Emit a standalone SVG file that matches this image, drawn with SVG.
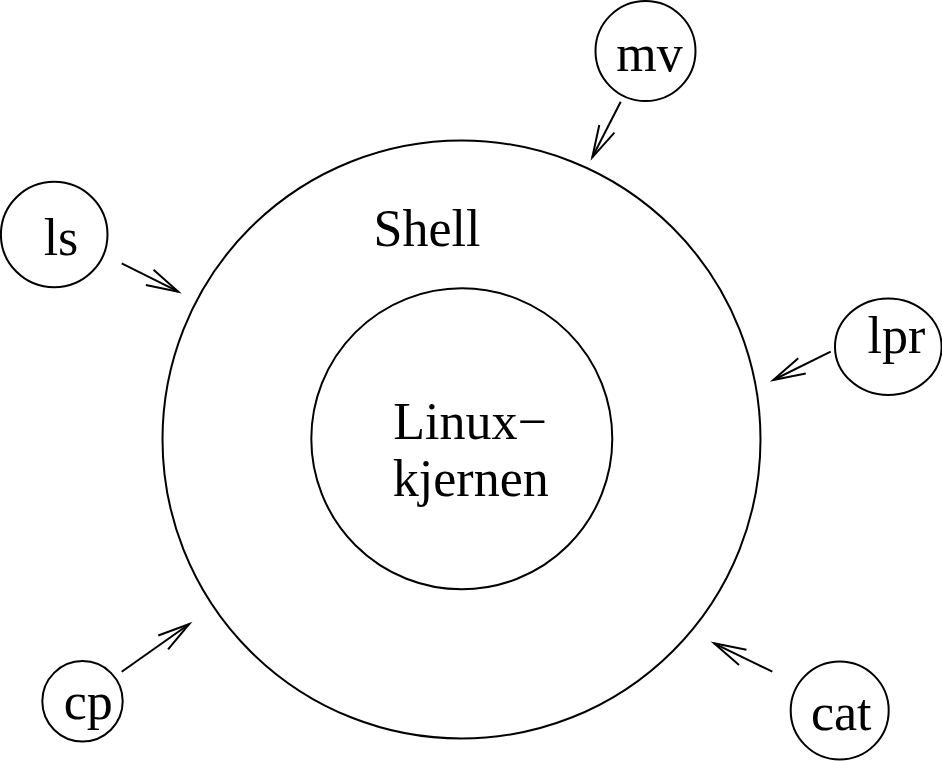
<svg xmlns="http://www.w3.org/2000/svg" width="942" height="761" viewBox="0 0 942 761">
<style>
.c{fill:none;stroke:#000;stroke-width:2}
.t{font-family:"Liberation Serif","Times New Roman",serif;font-size:52px;fill:#000;text-anchor:middle}
.a{fill:none;stroke:#000;stroke-width:2;marker-end:url(#ah)}
</style>
<defs>
<marker id="ah" markerUnits="userSpaceOnUse" markerWidth="40" markerHeight="24" refX="0" refY="0" orient="auto" overflow="visible">
<path d="M-32,-8.5 L0,0 L-32,8.5" fill="none" stroke="#000" stroke-width="2"/>
</marker>
</defs>
<rect width="942" height="761" fill="#fff"/>
<g id="shell">
<circle class="c" cx="461.5" cy="439.5" r="299"/>
<text class="t" x="427" y="246">Shell</text>
</g>
<g id="kernel">
<circle class="c" cx="461.8" cy="438.8" r="150.5"/>
<text class="t" x="470" y="439.3">Linux−</text>
<text class="t" x="470.8" y="496">kjernen</text>
</g>
<g id="mv">
<circle class="c" cx="645.5" cy="51" r="50"/>
<text class="t" x="649.5" y="70.7">mv</text>
</g>
<g id="ls">
<ellipse class="c" cx="54.2" cy="234.5" rx="53.3" ry="52.8"/>
<text class="t" x="61" y="255">ls</text>
</g>
<g id="lpr">
<ellipse class="c" cx="888.3" cy="346.7" rx="53.3" ry="48.3"/>
<text class="t" x="896.5" y="353">lpr</text>
</g>
<g id="cp">
<circle class="c" cx="82.5" cy="701.3" r="40.2"/>
<text class="t" x="88.3" y="719.3">cp</text>
</g>
<g id="cat">
<circle class="c" cx="839.7" cy="710.5" r="49"/>
<text class="t" x="841.2" y="730">cat</text>
</g>
<g id="connectors">
<line class="a" x1="620.7" y1="101.7" x2="592.3" y2="157.3"/>
<line class="a" x1="121.7" y1="263.3" x2="178.3" y2="291.7"/>
<line class="a" x1="830.7" y1="351.7" x2="773.3" y2="380"/>
<line class="a" x1="121.7" y1="671.7" x2="189.3" y2="624"/>
<line class="a" x1="772.3" y1="671.7" x2="714" y2="643.3"/>
</g>
</svg>
